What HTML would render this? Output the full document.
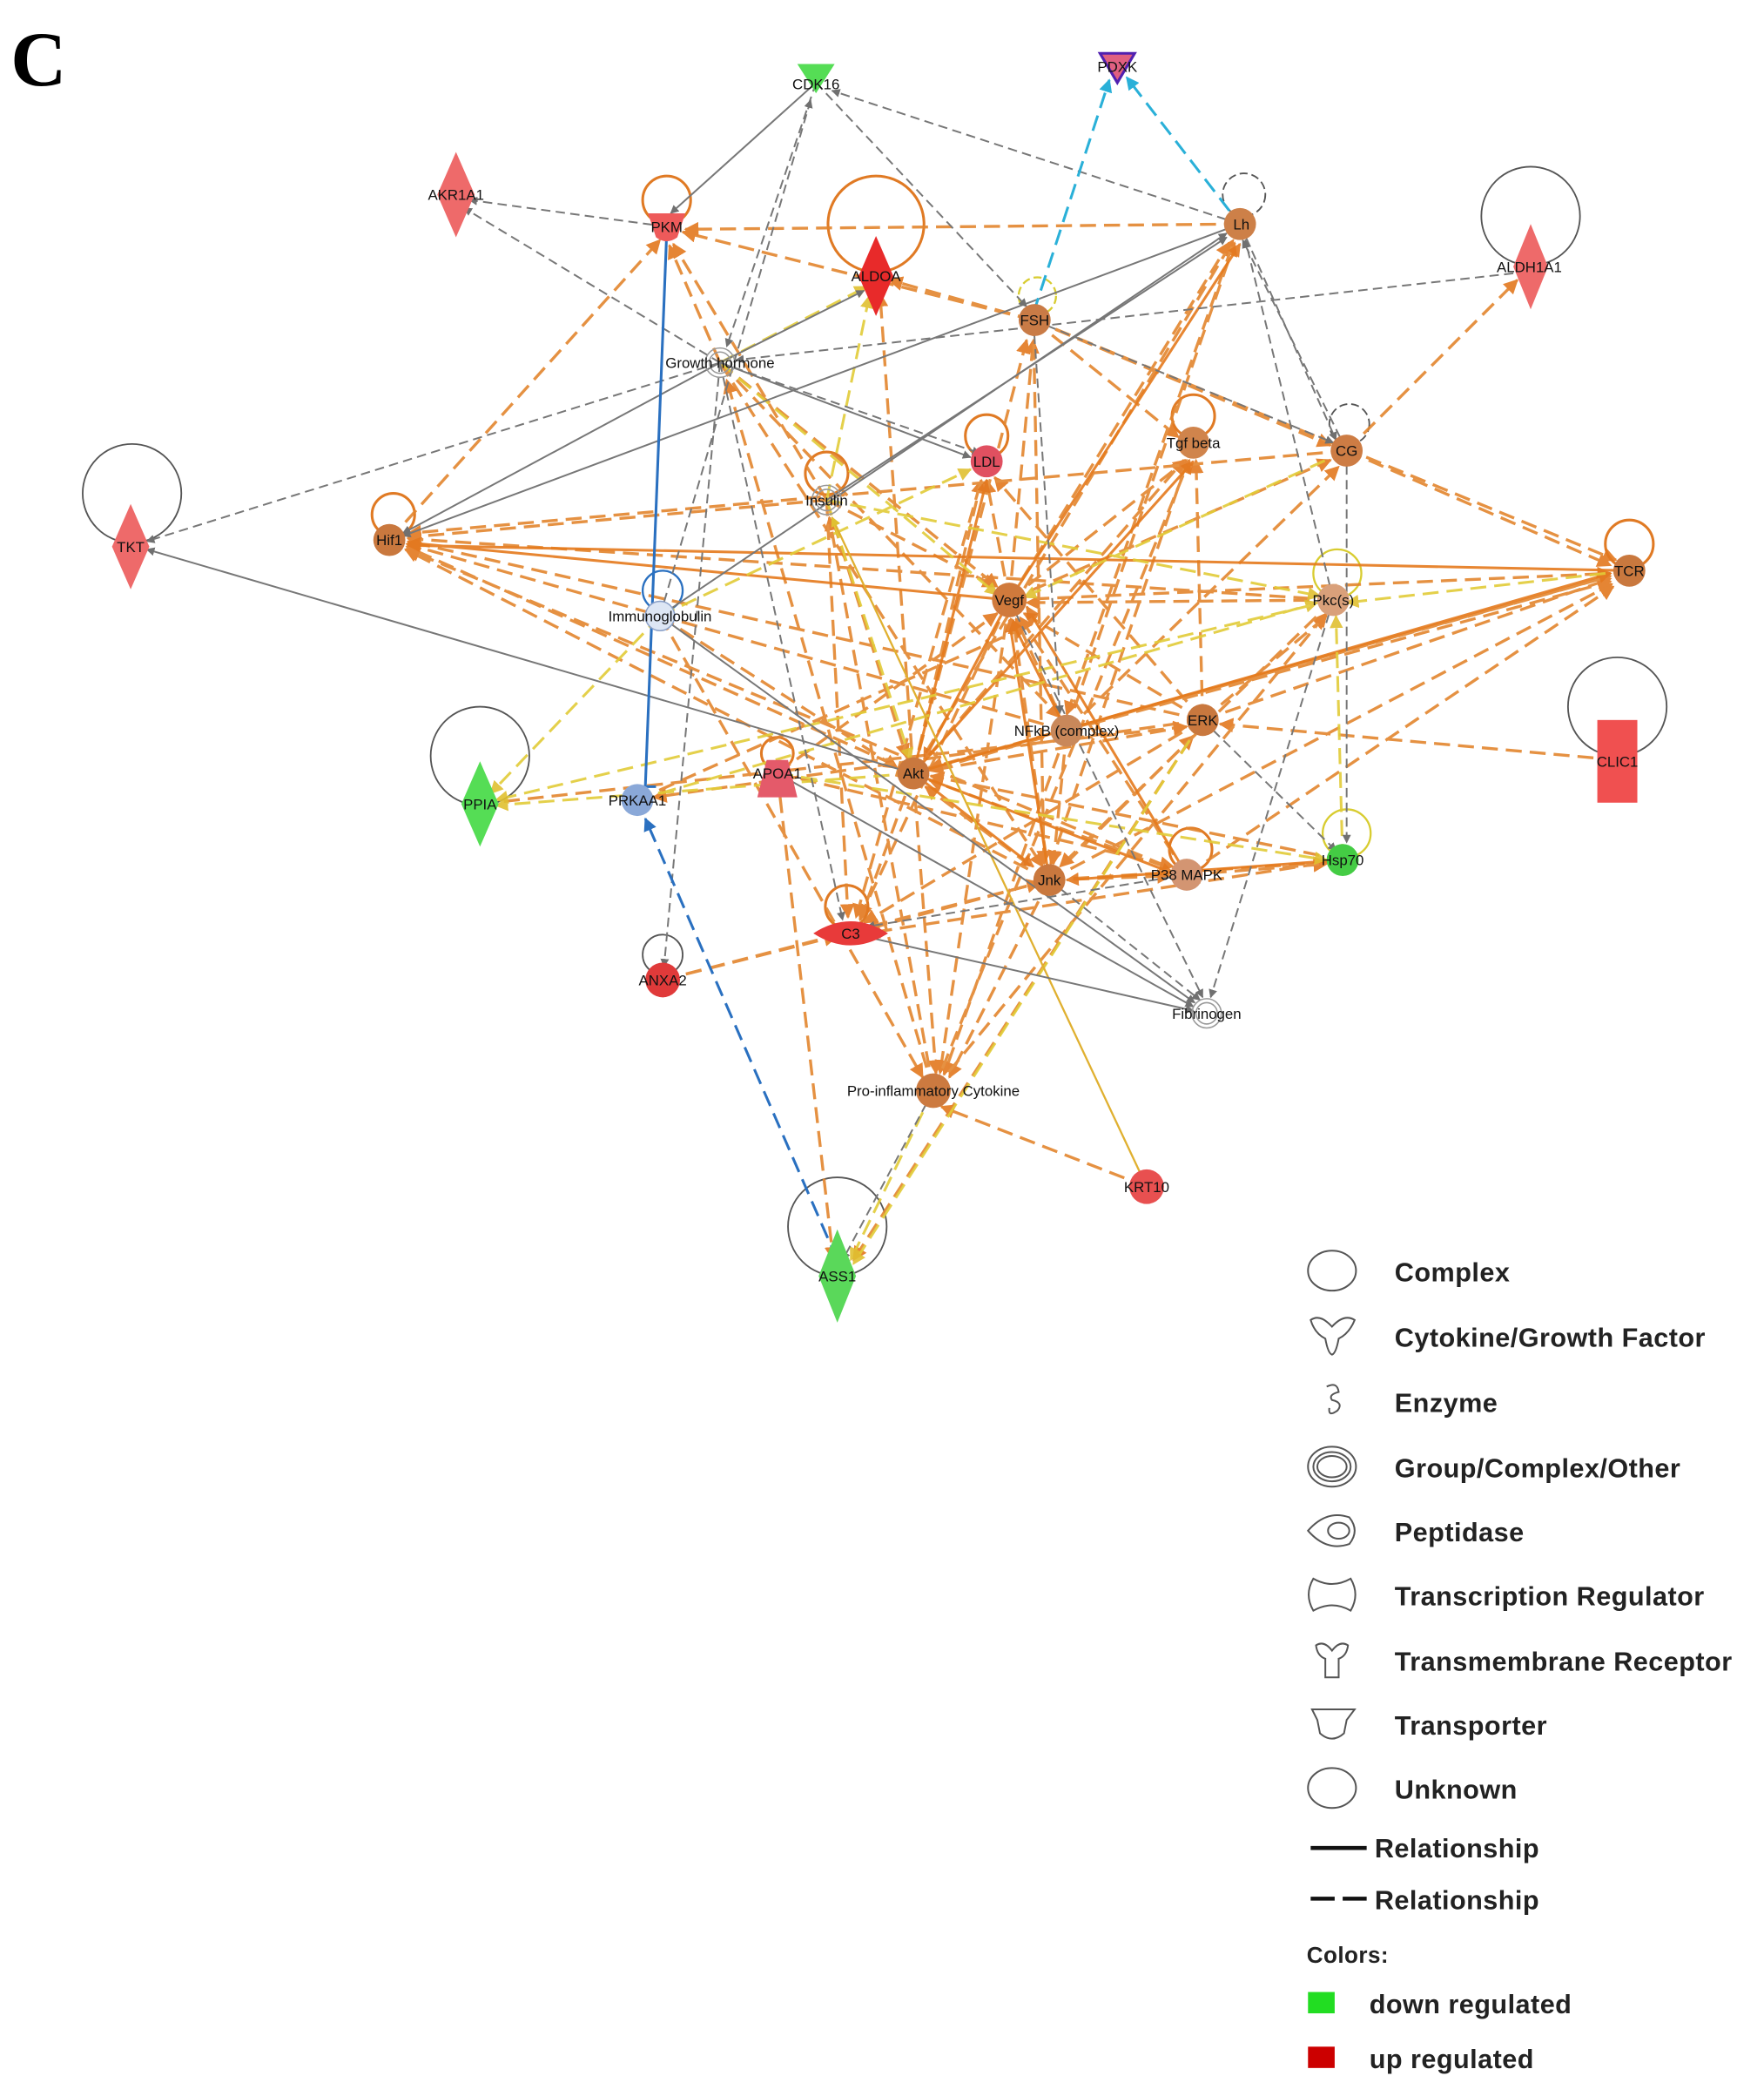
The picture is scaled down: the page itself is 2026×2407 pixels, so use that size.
<!DOCTYPE html>
<html><head><meta charset="utf-8"><style>
html,body{margin:0;padding:0;background:#fff;}
svg{display:block;}
text{font-family:"Liberation Sans",sans-serif;}
</style></head><body>
<svg width="2026" height="2407" viewBox="0 0 1323 1572" preserveAspectRatio="none" xmlns="http://www.w3.org/2000/svg">
<defs>
<marker id="ao" viewBox="0 0 10 10" refX="9" refY="5" markerWidth="5" markerHeight="5" orient="auto"><path d="M0,0L10,5L0,10z" fill="#e3781f"/></marker>
<marker id="ay" viewBox="0 0 10 10" refX="9" refY="5" markerWidth="5" markerHeight="5" orient="auto"><path d="M0,0L10,5L0,10z" fill="#e0c030"/></marker>
<marker id="ag" viewBox="0 0 10 10" refX="9" refY="5" markerWidth="5" markerHeight="5" orient="auto"><path d="M0,0L10,5L0,10z" fill="#707070"/></marker>
<marker id="ac" viewBox="0 0 10 10" refX="9" refY="5" markerWidth="5" markerHeight="5" orient="auto"><path d="M0,0L10,5L0,10z" fill="#2ab0d8"/></marker>
<marker id="ab" viewBox="0 0 10 10" refX="9" refY="5" markerWidth="5" markerHeight="5" orient="auto"><path d="M0,0L10,5L0,10z" fill="#2a70c0"/></marker>
</defs>
<rect width="1323" height="1572" fill="#fff"/>
<text x="8" y="64" font-family="Liberation Serif,serif" font-weight="bold" font-size="58" fill="#000" style="font-family:'Liberation Serif',serif">C</text>

<!-- loops -->
<g fill="none" stroke="#555" stroke-width="1.2">
<circle cx="99" cy="370" r="37"/>
<circle cx="1148" cy="162" r="37"/>
<circle cx="1213" cy="530" r="37"/>
<circle cx="360" cy="567" r="37"/>
<circle cx="628" cy="920" r="37"/>
<circle cx="933" cy="146" r="16" stroke-dasharray="6,3"/>
<circle cx="1012" cy="318" r="15" stroke-dasharray="6,3"/>
<circle cx="497" cy="716" r="15"/>
</g>
<g fill="none" stroke="#e07a24" stroke-width="2">
<circle cx="500" cy="150" r="18"/>
<circle cx="657" cy="168" r="36"/>
<circle cx="295" cy="386" r="16"/>
<circle cx="1222" cy="408" r="18"/>
<circle cx="895" cy="312" r="16"/>
<circle cx="740" cy="327" r="16"/>
<circle cx="620" cy="355" r="16"/>
<circle cx="635" cy="680" r="16"/>
<circle cx="893" cy="637" r="16"/>
<circle cx="583" cy="565" r="12"/>
</g>
<g fill="none" stroke="#d8cc30" stroke-width="1.5">
<circle cx="1003" cy="430" r="18"/>
<circle cx="1010" cy="625" r="18"/>
<circle cx="778" cy="222" r="14" stroke-dasharray="6,3"/>
</g>
<circle cx="497" cy="443" r="15" fill="none" stroke="#2a70c0" stroke-width="1.5"/>

<!-- orange dashed edges -->
<g fill="none" stroke="#e3862e" stroke-width="2.2" stroke-dasharray="12,6" marker-end="url(#ao)" opacity="0.9">
<line x1="292" y1="405" x2="495" y2="180"/>
<line x1="685" y1="580" x2="305" y2="410"/>
<line x1="800" y1="548" x2="305" y2="408"/>
<line x1="902" y1="540" x2="306" y2="406"/>
<line x1="787" y1="660" x2="304" y2="412"/>
<line x1="620" y1="375" x2="306" y2="403"/>
<line x1="1000" y1="450" x2="306" y2="404"/>
<line x1="890" y1="656" x2="305" y2="412"/>
<line x1="757" y1="450" x2="740" y2="360"/>
<line x1="757" y1="450" x2="775" y2="255"/>
<line x1="757" y1="450" x2="890" y2="345"/>
<line x1="757" y1="450" x2="998" y2="345"/>
<line x1="757" y1="450" x2="922" y2="182"/>
<line x1="620" y1="375" x2="747" y2="440"/>
<line x1="800" y1="548" x2="762" y2="464"/>
<line x1="902" y1="540" x2="768" y2="460"/>
<line x1="787" y1="660" x2="760" y2="465"/>
<line x1="890" y1="656" x2="765" y2="463"/>
<line x1="757" y1="450" x2="645" y2="688"/>
<line x1="757" y1="450" x2="705" y2="805"/>
<line x1="757" y1="450" x2="1208" y2="430"/>
<line x1="1000" y1="450" x2="770" y2="452"/>
<line x1="540" y1="272" x2="748" y2="440"/>
<line x1="685" y1="580" x2="736" y2="360"/>
<line x1="685" y1="580" x2="888" y2="345"/>
<line x1="685" y1="580" x2="770" y2="255"/>
<line x1="685" y1="580" x2="925" y2="180"/>
<line x1="685" y1="580" x2="890" y2="545"/>
<line x1="800" y1="548" x2="697" y2="578"/>
<line x1="787" y1="660" x2="694" y2="590"/>
<line x1="890" y1="656" x2="697" y2="585"/>
<line x1="685" y1="580" x2="1208" y2="432"/>
<line x1="1007" y1="645" x2="698" y2="582"/>
<line x1="685" y1="580" x2="645" y2="690"/>
<line x1="685" y1="580" x2="702" y2="805"/>
<line x1="685" y1="580" x2="660" y2="220"/>
<line x1="620" y1="375" x2="680" y2="568"/>
<line x1="495" y1="462" x2="673" y2="576"/>
<line x1="902" y1="540" x2="1208" y2="434"/>
<line x1="1213" y1="570" x2="915" y2="543"/>
<line x1="902" y1="540" x2="995" y2="462"/>
<line x1="902" y1="540" x2="897" y2="345"/>
<line x1="902" y1="540" x2="746" y2="358"/>
<line x1="787" y1="660" x2="895" y2="552"/>
<line x1="902" y1="540" x2="648" y2="692"/>
<line x1="902" y1="540" x2="640" y2="945"/>
<line x1="902" y1="540" x2="490" y2="598"/>
<line x1="800" y1="548" x2="1208" y2="436"/>
<line x1="800" y1="548" x2="790" y2="648"/>
<line x1="800" y1="548" x2="708" y2="806"/>
<line x1="540" y1="272" x2="795" y2="538"/>
<line x1="800" y1="548" x2="926" y2="182"/>
<line x1="800" y1="548" x2="1004" y2="350"/>
<line x1="787" y1="660" x2="878" y2="657"/>
<line x1="787" y1="660" x2="995" y2="647"/>
<line x1="787" y1="660" x2="1209" y2="438"/>
<line x1="540" y1="272" x2="782" y2="650"/>
<line x1="787" y1="660" x2="650" y2="697"/>
<line x1="787" y1="660" x2="712" y2="808"/>
<line x1="890" y1="656" x2="1210" y2="440"/>
<line x1="890" y1="656" x2="995" y2="648"/>
<line x1="700" y1="818" x2="545" y2="285"/>
<line x1="700" y1="818" x2="622" y2="388"/>
<line x1="860" y1="890" x2="706" y2="830"/>
<line x1="495" y1="462" x2="692" y2="808"/>
<line x1="700" y1="818" x2="995" y2="460"/>
<line x1="700" y1="818" x2="892" y2="345"/>
<line x1="497" y1="735" x2="628" y2="702"/>
<line x1="620" y1="375" x2="636" y2="688"/>
<line x1="740" y1="346" x2="642" y2="688"/>
<line x1="1007" y1="645" x2="650" y2="700"/>
<line x1="775" y1="240" x2="512" y2="174"/>
<line x1="540" y1="272" x2="502" y2="184"/>
<line x1="620" y1="375" x2="505" y2="183"/>
<line x1="930" y1="168" x2="514" y2="172"/>
<line x1="775" y1="240" x2="667" y2="210"/>
<line x1="1010" y1="338" x2="1138" y2="210"/>
<line x1="1010" y1="338" x2="1208" y2="424"/>
<line x1="1010" y1="338" x2="306" y2="400"/>
<line x1="775" y1="240" x2="884" y2="328"/>
<line x1="775" y1="240" x2="998" y2="334"/>
<line x1="775" y1="240" x2="783" y2="648"/>
<line x1="775" y1="240" x2="1212" y2="420"/>
<line x1="583" y1="580" x2="748" y2="460"/>
<line x1="583" y1="580" x2="880" y2="650"/>
<line x1="583" y1="580" x2="625" y2="945"/>
<line x1="895" y1="332" x2="788" y2="648"/>
<line x1="1000" y1="450" x2="795" y2="650"/>
<line x1="930" y1="168" x2="800" y2="536"/>
<line x1="1222" y1="428" x2="697" y2="576"/>
<line x1="497" y1="735" x2="780" y2="662"/>
<line x1="478" y1="600" x2="770" y2="470"/>
<line x1="360" y1="603" x2="890" y2="545"/>
</g>
<!-- solid orange -->
<g fill="none" stroke="#e57a1c" stroke-width="2" marker-end="url(#ao)" opacity="0.9">
<line x1="757" y1="450" x2="306" y2="407"/>
<line x1="1222" y1="428" x2="306" y2="409"/>
<line x1="757" y1="450" x2="693" y2="570"/>
<line x1="685" y1="580" x2="1208" y2="430"/>
<line x1="890" y1="656" x2="770" y2="455"/>
<line x1="685" y1="580" x2="895" y2="346"/>
<line x1="685" y1="580" x2="775" y2="650"/>
<line x1="685" y1="580" x2="880" y2="655"/>
<line x1="1007" y1="645" x2="800" y2="660"/>
<line x1="757" y1="450" x2="930" y2="183"/>
<line x1="685" y1="580" x2="740" y2="360"/>
<line x1="787" y1="660" x2="757" y2="465"/>
<line x1="800" y1="548" x2="758" y2="464"/>
</g>
<!-- yellow dashed -->
<g fill="none" stroke="#e2cc38" stroke-width="2" stroke-dasharray="12,6" marker-end="url(#ay)" opacity="0.9">
<line x1="495" y1="462" x2="368" y2="595"/>
<line x1="478" y1="600" x2="988" y2="452"/>
<line x1="1000" y1="450" x2="372" y2="600"/>
<line x1="495" y1="462" x2="728" y2="352"/>
<line x1="620" y1="375" x2="990" y2="447"/>
<line x1="540" y1="272" x2="650" y2="215"/>
<line x1="620" y1="375" x2="652" y2="222"/>
<line x1="1010" y1="338" x2="768" y2="448"/>
<line x1="700" y1="818" x2="638" y2="945"/>
<line x1="902" y1="540" x2="640" y2="948"/>
<line x1="1007" y1="645" x2="1002" y2="462"/>
<line x1="685" y1="580" x2="372" y2="604"/>
<line x1="1222" y1="428" x2="1010" y2="452"/>
<line x1="583" y1="580" x2="995" y2="645"/>
<line x1="540" y1="272" x2="748" y2="446"/>
<line x1="620" y1="375" x2="683" y2="570"/>
</g>
<line x1="860" y1="890" x2="624" y2="388" stroke="#e0b030" stroke-width="1.5" marker-end="url(#ay)"/>
<!-- gray -->
<g fill="none" stroke="#777" stroke-width="1.3" marker-end="url(#ag)">
<line x1="612" y1="62" x2="503" y2="160"/>
<line x1="540" y1="272" x2="302" y2="400"/>
<line x1="930" y1="168" x2="302" y2="402"/>
<line x1="620" y1="375" x2="920" y2="178"/>
<line x1="495" y1="462" x2="920" y2="175"/>
<line x1="685" y1="580" x2="110" y2="412"/>
<line x1="540" y1="272" x2="648" y2="218"/>
<line x1="495" y1="462" x2="896" y2="752"/>
<line x1="583" y1="580" x2="895" y2="755"/>
<line x1="638" y1="700" x2="895" y2="758"/>
<line x1="540" y1="272" x2="728" y2="343"/>
</g>
<g fill="none" stroke="#777" stroke-width="1.3" stroke-dasharray="7,4" marker-end="url(#ag)">
<line x1="930" y1="168" x2="624" y2="68"/>
<line x1="612" y1="62" x2="545" y2="260"/>
<line x1="612" y1="62" x2="770" y2="230"/>
<line x1="495" y1="462" x2="608" y2="75"/>
<line x1="500" y1="170" x2="352" y2="150"/>
<line x1="540" y1="272" x2="348" y2="156"/>
<line x1="540" y1="272" x2="110" y2="406"/>
<line x1="1135" y1="205" x2="552" y2="270"/>
<line x1="1010" y1="338" x2="932" y2="180"/>
<line x1="1000" y1="450" x2="934" y2="180"/>
<line x1="930" y1="168" x2="1002" y2="330"/>
<line x1="1010" y1="338" x2="1010" y2="632"/>
<line x1="1000" y1="450" x2="908" y2="748"/>
<line x1="775" y1="240" x2="1000" y2="332"/>
<line x1="540" y1="272" x2="498" y2="725"/>
<line x1="540" y1="272" x2="632" y2="690"/>
<line x1="787" y1="660" x2="900" y2="750"/>
<line x1="757" y1="450" x2="902" y2="748"/>
<line x1="902" y1="540" x2="1002" y2="638"/>
<line x1="775" y1="240" x2="795" y2="535"/>
<line x1="700" y1="818" x2="632" y2="945"/>
<line x1="890" y1="656" x2="650" y2="695"/>
<line x1="540" y1="272" x2="735" y2="340"/>
</g>
<!-- blue / cyan -->
<line x1="500" y1="175" x2="484" y2="590" stroke="#2a70c0" stroke-width="2"/>
<line x1="476" y1="590" x2="492" y2="590" stroke="#2a70c0" stroke-width="2"/>
<line x1="495" y1="462" x2="488" y2="455" stroke="#2a70c0" stroke-width="2"/>
<line x1="628" y1="945" x2="484" y2="614" stroke="#2a70c0" stroke-width="2" stroke-dasharray="12,6" marker-end="url(#ab)"/>
<line x1="775" y1="235" x2="832" y2="60" stroke="#2ab0d8" stroke-width="2" stroke-dasharray="12,6" marker-end="url(#ac)"/>
<line x1="922" y1="158" x2="845" y2="58" stroke="#2ab0d8" stroke-width="2" stroke-dasharray="12,6" marker-end="url(#ac)"/>

<!-- nodes -->
<g stroke="none">
<polygon points="598,48 626,48 612,70" fill="#55dd55"/>
<polygon points="825,40 851,40 838,62" fill="#e06080" stroke="#5020b0" stroke-width="2"/>
<polygon points="342,114 356,146 342,178 328,146" fill="#ee6a6a"/>
<path d="M486,160 L514,160 L508,178 Q500,184 492,178 Z" fill="#ee5a5a"/>
<polygon points="657,177 670,207 657,237 644,207" fill="#e82a2a"/>
<circle cx="930" cy="168" r="12" fill="#cd8048"/>
<polygon points="1148,168 1161,200 1148,232 1135,200" fill="#ee6a6a"/>
<circle cx="776" cy="240" r="12" fill="#c97b46"/>
<circle cx="740" cy="346" r="12" fill="#e05060"/>
<circle cx="895" cy="332" r="12" fill="#d0844c"/>
<circle cx="1010" cy="338" r="12" fill="#cd7c44"/>
<polygon points="98,378 112,410 98,442 84,410" fill="#ee6a6a"/>
<circle cx="292" cy="405" r="12" fill="#c9783e"/>
<circle cx="1222" cy="428" r="12" fill="#c9783e"/>
<circle cx="757" cy="450" r="13" fill="#d07a3c"/>
<circle cx="1000" cy="450" r="12" fill="#d9a07a"/>
<circle cx="800" cy="548" r="12" fill="#c9885a"/>
<circle cx="902" cy="540" r="12" fill="#c9783e"/>
<rect x="1198" y="540" width="30" height="62" fill="#f05050"/>
<polygon points="360,571 374,603 360,635 346,603" fill="#55dd55"/>
<circle cx="478" cy="600" r="12" fill="#8aa8d8"/>
<path d="M575,570 L591,570 L598,598 L568,598 Z" fill="#e45a6a"/>
<circle cx="685" cy="580" r="12" fill="#c9783e"/>
<circle cx="787" cy="660" r="12" fill="#c9783e"/>
<circle cx="890" cy="656" r="12" fill="#d39572"/>
<circle cx="1007" cy="645" r="12" fill="#44cc44"/>
<path d="M610,700 Q638,682 666,700 Q638,718 610,700 Z" fill="#e83a3a"/>
<circle cx="497" cy="735" r="13" fill="#e03a3a"/>
<circle cx="700" cy="818" r="13" fill="#cc7a40"/>
<circle cx="860" cy="890" r="13" fill="#e85050"/>
<polygon points="628,922 642,957 628,992 614,957" fill="#5ad85a"/>
</g>
<g fill="none" stroke="#999" stroke-width="1">
<circle cx="540" cy="272" r="11"/><circle cx="540" cy="272" r="8"/>
<circle cx="620" cy="375" r="11"/><circle cx="620" cy="375" r="8"/>
<circle cx="905" cy="760" r="11"/><circle cx="905" cy="760" r="8"/>
</g>
<circle cx="495" cy="462" r="11" fill="#dde6f4" stroke="#8aa0c8"/>

<!-- labels -->
<g font-size="11" fill="#111" text-anchor="middle">
<text x="612" y="67">CDK16</text>
<text x="838" y="54">PDXK</text>
<text x="342" y="150">AKR1A1</text>
<text x="500" y="174">PKM</text>
<text x="657" y="211">ALDOA</text>
<text x="931" y="172">Lh</text>
<text x="1147" y="204">ALDH1A1</text>
<text x="776" y="244">FSH</text>
<text x="540" y="276">Growth hormone</text>
<text x="740" y="350">LDL</text>
<text x="895" y="336">Tgf beta</text>
<text x="1010" y="342">CG</text>
<text x="620" y="379">Insulin</text>
<text x="98" y="414">TKT</text>
<text x="292" y="409">Hif1</text>
<text x="1222" y="432">TCR</text>
<text x="757" y="454">Vegf</text>
<text x="1000" y="454">Pkc(s)</text>
<text x="495" y="466">Immunoglobulin</text>
<text x="800" y="552">NFkB (complex)</text>
<text x="902" y="544">ERK</text>
<text x="1213" y="575">CLIC1</text>
<text x="360" y="607">PPIA</text>
<text x="478" y="604">PRKAA1</text>
<text x="583" y="584">APOA1</text>
<text x="685" y="584">Akt</text>
<text x="787" y="664">Jnk</text>
<text x="890" y="660">P38 MAPK</text>
<text x="1007" y="649">Hsp70</text>
<text x="638" y="704">C3</text>
<text x="497" y="739">ANXA2</text>
<text x="905" y="764">Fibrinogen</text>
<text x="700" y="822">Pro-inflammatory Cytokine</text>
<text x="860" y="894">KRT10</text>
<text x="628" y="961">ASS1</text>
</g>

<!-- legend -->
<g fill="none" stroke="#555" stroke-width="1.3">
<ellipse cx="999" cy="953" rx="18" ry="15"/>
<path d="M983,990 Q990,985 999,995 Q1008,985 1016,990 Q1012,1000 1004,1004 Q1002,1015 999,1016 Q996,1015 994,1004 Q986,1000 983,990 Z"/>
<path d="M995,1040 Q1003,1036 1004,1044 Q996,1046 999,1050 Q1008,1052 1003,1058 Q996,1063 997,1056"/>
<ellipse cx="999" cy="1100" rx="18" ry="15"/><ellipse cx="999" cy="1100" rx="14" ry="11"/><ellipse cx="999" cy="1100" rx="11" ry="8"/>
<path d="M981,1148 Q995,1132 1012,1138 Q1020,1148 1012,1158 Q995,1164 981,1148 Z"/><ellipse cx="1004" cy="1148" rx="8" ry="6"/>
<path d="M985,1184 Q999,1192 1013,1184 Q1020,1196 1013,1208 Q999,1200 985,1208 Q978,1196 985,1184 Z"/>
<path d="M987,1234 Q993,1230 999,1238 Q1005,1230 1011,1234 Q1010,1242 1004,1244 L1004,1258 L994,1258 L994,1244 Q988,1242 987,1234 Z"/>
<path d="M984,1282 L1016,1282 L1010,1290 L1008,1300 Q999,1308 990,1300 L988,1290 Z"/>
<ellipse cx="999" cy="1341" rx="18" ry="15"/>
</g>
<line x1="983" y1="1386" x2="1025" y2="1386" stroke="#111" stroke-width="3"/>
<line x1="983" y1="1424" x2="1001" y2="1424" stroke="#111" stroke-width="3"/>
<line x1="1007" y1="1424" x2="1025" y2="1424" stroke="#111" stroke-width="3"/>
<rect x="981" y="1494" width="20" height="16" fill="#22dd22"/>
<rect x="981" y="1535" width="20" height="16" fill="#cc0000"/>
<g font-size="20" fill="#222" font-weight="bold" style="letter-spacing:0.3px">
<text x="1046" y="961">Complex</text>
<text x="1046" y="1010">Cytokine/Growth Factor</text>
<text x="1046" y="1059">Enzyme</text>
<text x="1046" y="1108">Group/Complex/Other</text>
<text x="1046" y="1156">Peptidase</text>
<text x="1046" y="1204">Transcription Regulator</text>
<text x="1046" y="1253">Transmembrane Receptor</text>
<text x="1046" y="1301">Transporter</text>
<text x="1046" y="1349">Unknown</text>
<text x="1031" y="1393">Relationship</text>
<text x="1031" y="1432">Relationship</text>
<text x="980" y="1472" font-size="17">Colors:</text>
<text x="1027" y="1510">down regulated</text>
<text x="1027" y="1551">up regulated</text>
</g>
</svg>
</body></html>
